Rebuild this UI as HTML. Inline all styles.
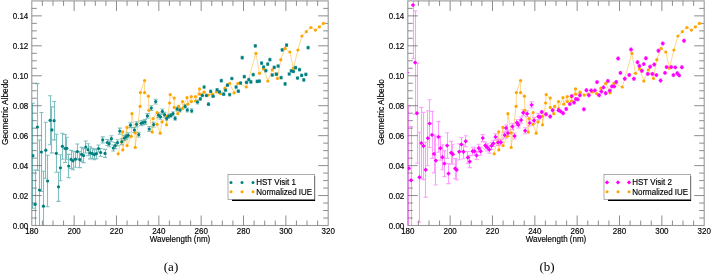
<!DOCTYPE html>
<html><head><meta charset="utf-8"><style>
html,body{margin:0;padding:0;background:#fff;width:711px;height:274px;overflow:hidden}
svg{display:block;will-change:transform}
text{-webkit-font-smoothing:antialiased}
g>text{stroke:#000;stroke-width:0.15px}
</style></head><body>
<svg width="711" height="274" viewBox="0 0 711 274">
<rect x="31.8" y="0.9" width="296.4" height="224.6" fill="none" stroke="#999" stroke-width="1.1"/>
<path d="M42.39 225.50v-5M42.39 0.90v5M52.97 225.50v-5M52.97 0.90v5M63.56 225.50v-5M63.56 0.90v5M74.14 225.50v-10M74.14 0.90v10M84.73 225.50v-5M84.73 0.90v5M95.31 225.50v-5M95.31 0.90v5M105.90 225.50v-5M105.90 0.90v5M116.49 225.50v-10M116.49 0.90v10M127.07 225.50v-5M127.07 0.90v5M137.66 225.50v-5M137.66 0.90v5M148.24 225.50v-5M148.24 0.90v5M158.83 225.50v-10M158.83 0.90v10M169.41 225.50v-5M169.41 0.90v5M180.00 225.50v-5M180.00 0.90v5M190.59 225.50v-5M190.59 0.90v5M201.17 225.50v-10M201.17 0.90v10M211.76 225.50v-5M211.76 0.90v5M222.34 225.50v-5M222.34 0.90v5M232.93 225.50v-5M232.93 0.90v5M243.51 225.50v-10M243.51 0.90v10M254.10 225.50v-5M254.10 0.90v5M264.69 225.50v-5M264.69 0.90v5M275.27 225.50v-5M275.27 0.90v5M285.86 225.50v-10M285.86 0.90v10M296.44 225.50v-5M296.44 0.90v5M307.03 225.50v-5M307.03 0.90v5M317.61 225.50v-5M317.61 0.90v5M31.80 218.01h5M328.20 218.01h-5M31.80 210.53h5M328.20 210.53h-5M31.80 203.04h5M328.20 203.04h-5M31.80 195.55h10M328.20 195.55h-10M31.80 188.07h5M328.20 188.07h-5M31.80 180.58h5M328.20 180.58h-5M31.80 173.09h5M328.20 173.09h-5M31.80 165.61h10M328.20 165.61h-10M31.80 158.12h5M328.20 158.12h-5M31.80 150.63h5M328.20 150.63h-5M31.80 143.15h5M328.20 143.15h-5M31.80 135.66h10M328.20 135.66h-10M31.80 128.17h5M328.20 128.17h-5M31.80 120.69h5M328.20 120.69h-5M31.80 113.20h5M328.20 113.20h-5M31.80 105.71h10M328.20 105.71h-10M31.80 98.23h5M328.20 98.23h-5M31.80 90.74h5M328.20 90.74h-5M31.80 83.25h5M328.20 83.25h-5M31.80 75.77h10M328.20 75.77h-10M31.80 68.28h5M328.20 68.28h-5M31.80 60.79h5M328.20 60.79h-5M31.80 53.31h5M328.20 53.31h-5M31.80 45.82h10M328.20 45.82h-10M31.80 38.33h5M328.20 38.33h-5M31.80 30.85h5M328.20 30.85h-5M31.80 23.36h5M328.20 23.36h-5M31.80 15.87h10M328.20 15.87h-10M31.80 8.39h5M328.20 8.39h-5" stroke="#808080" stroke-width="0.9" fill="none"/>
<g font-family="Liberation Sans, sans-serif" font-size="8" fill="#000"><text transform="translate(31.80,234.20) scale(1,1.06)" text-anchor="middle" font-size="8">180</text><text transform="translate(74.14,234.20) scale(1,1.06)" text-anchor="middle" font-size="8">200</text><text transform="translate(116.49,234.20) scale(1,1.06)" text-anchor="middle" font-size="8">220</text><text transform="translate(158.83,234.20) scale(1,1.06)" text-anchor="middle" font-size="8">240</text><text transform="translate(201.17,234.20) scale(1,1.06)" text-anchor="middle" font-size="8">260</text><text transform="translate(243.51,234.20) scale(1,1.06)" text-anchor="middle" font-size="8">280</text><text transform="translate(285.86,234.20) scale(1,1.06)" text-anchor="middle" font-size="8">300</text><text transform="translate(328.20,234.20) scale(1,1.06)" text-anchor="middle" font-size="8">320</text><text transform="translate(28.30,228.80) scale(1,1.06)" text-anchor="end" font-size="8">0.00</text><text transform="translate(28.30,198.85) scale(1,1.06)" text-anchor="end" font-size="8">0.02</text><text transform="translate(28.30,168.91) scale(1,1.06)" text-anchor="end" font-size="8">0.04</text><text transform="translate(28.30,138.96) scale(1,1.06)" text-anchor="end" font-size="8">0.06</text><text transform="translate(28.30,109.01) scale(1,1.06)" text-anchor="end" font-size="8">0.08</text><text transform="translate(28.30,79.07) scale(1,1.06)" text-anchor="end" font-size="8">0.10</text><text transform="translate(28.30,49.12) scale(1,1.06)" text-anchor="end" font-size="8">0.12</text><text transform="translate(28.30,19.17) scale(1,1.06)" text-anchor="end" font-size="8">0.14</text></g>
<g font-family="Liberation Sans, sans-serif"><text transform="translate(149.70,241.60) scale(1,1.06)" font-size="8">Wavelength (nm)</text></g>
<g font-family="Liberation Sans, sans-serif"><text transform="translate(7.80,112.10) rotate(-90) scale(1,1.06)" text-anchor="middle" font-size="8.3">Geometric Albedo</text></g>
<clipPath id="cp0"><rect x="31.8" y="0.9" width="296.4" height="224.6"/></clipPath>
<g clip-path="url(#cp0)">
<polyline points="118.2,153.8 122.7,131.8 122.8,149.9 127.0,127.4 127.1,145.6 131.3,136.3 131.9,113.7 135.1,132.8 135.2,147.4 140.1,106.3 140.4,92.6 144.6,80.5 144.6,92.6 148.4,96.2 148.9,110.3 152.2,132.1 153.1,118.5 157.1,112.5 157.1,124.3 160.2,133.2 162.0,121.9 166.4,116.2 166.5,124.8 169.6,103.0 170.2,94.6 174.2,98.1 174.2,107.4 177.8,113.7 178.6,106.4 182.5,101.6 182.5,108.6 187.0,97.6 187.8,104.2 191.3,96.6 191.3,101.6 195.4,96.6 195.4,101.0 199.6,88.9 199.6,94.2 204.1,92.2 208.2,95.1 212.2,94.2 216.4,91.9 220.7,93.7 224.9,88.2 229.7,83.4 234.1,92.8 237.8,83.4 246.3,87.0 255.9,53.4 259.5,73.3 263.6,68.9 267.8,81.1 272.3,69.8 277.5,78.5 280.8,59.7 285.1,48.4 289.8,52.0 293.4,68.2 297.9,50.0 301.9,36.0 306.3,31.7 310.9,27.5 315.4,30.1 319.4,26.8 323.4,23.4" fill="none" stroke="#ffa500" stroke-width="0.45"/>
<path d="M32.5 103.2V208.2M30.9 103.2h4M30.9 208.2h4M35.5 170.0V238.8M33.1 170.0h4M33.1 238.8h4M37.5 83.6V170.4M35.4 83.6h4M35.4 170.4h4M39.5 140.0V240.0M37.5 140.0h4M37.5 240.0h4M41.5 112.5V191.5M39.4 112.5h4M39.4 191.5h4M43.5 171.2V241.2M41.4 171.2h4M41.4 241.2h4M45.5 122.2V178.2M43.8 122.2h4M43.8 178.2h4M47.5 155.3V206.7M45.6 155.3h4M45.6 206.7h4M50.5 95.8V144.8M48.1 95.8h4M48.1 144.8h4M51.5 106.9V152.9M49.9 106.9h4M49.9 152.9h4M54.5 101.5V139.9M52.1 101.5h4M52.1 139.9h4M56.5 134.3V172.3M54.3 134.3h4M54.3 172.3h4M58.5 172.2V201.4M56.5 172.2h4M56.5 201.4h4M60.5 154.8V180.8M58.4 154.8h4M58.4 180.8h4M62.5 133.3V159.3M60.4 133.3h4M60.4 159.3h4M65.5 134.5V162.5M63.0 134.5h4M63.0 162.5h4M66.5 137.3V159.3M64.8 137.3h4M64.8 159.3h4M68.5 154.4V177.6M66.7 154.4h4M66.7 177.6h4M71.5 150.4V168.4M69.1 150.4h4M69.1 168.4h4M73.5 151.8V169.8M71.0 151.8h4M71.0 169.8h4M75.5 151.2V167.2M73.5 151.2h4M73.5 167.2h4M77.5 144.0V159.2M75.3 144.0h4M75.3 159.2h4M79.5 151.6V167.6M77.8 151.6h4M77.8 167.6h4M81.5 147.4V161.4M79.6 147.4h4M79.6 161.4h4M83.5 148.6V162.6M81.6 148.6h4M81.6 162.6h4M85.5 141.0V153.0M83.8 141.0h4M83.8 153.0h4M88.5 143.7V155.7M86.0 143.7h4M86.0 155.7h4M90.5 146.9V158.9M88.0 146.9h4M88.0 158.9h4M92.5 148.4V158.4M90.2 148.4h4M90.2 158.4h4M94.5 149.6V159.6M92.4 149.6h4M92.4 159.6h4M96.5 148.7V158.7M94.4 148.7h4M94.4 158.7h4M98.5 145.0V152.0M96.5 145.0h4M96.5 152.0h4M100.5 148.5V156.5M98.7 148.5h4M98.7 156.5h4M102.5 136.9V142.9M100.7 136.9h4M100.7 142.9h4M105.5 149.4V157.4M103.0 149.4h4M103.0 157.4h4M107.5 139.5V145.5M105.3 139.5h4M105.3 145.5h4M109.5 140.7V146.7M107.2 140.7h4M107.2 146.7h4M111.5 135.7V141.7M109.4 135.7h4M109.4 141.7h4M113.5 145.0V151.0M111.3 145.0h4M111.3 151.0h4M115.5 142.6V148.6M113.3 142.6h4M113.3 148.6h4M117.5 139.7V145.7M115.5 139.7h4M115.5 145.7h4M119.5 128.1V134.1M117.8 128.1h4M117.8 134.1h4M121.5 138.8V144.8M119.8 138.8h4M119.8 144.8h4M124.5 135.6V140.6M122.4 135.6h4M122.4 140.6h4M126.5 134.2V139.2M124.3 134.2h4M124.3 139.2h4M128.5 132.8V137.8M126.2 132.8h4M126.2 137.8h4M130.5 122.8V127.6M128.4 122.8h4M128.4 127.6h4M134.5 127.6V132.4M132.4 127.6h4M132.4 132.4h4M136.5 121.9V126.7M134.5 121.9h4M134.5 126.7h4M138.5 132.2V137.0M136.8 132.2h4M136.8 137.0h4M141.5 120.9V125.7M139.1 120.9h4M139.1 125.7h4M143.5 120.2V125.0M141.0 120.2h4M141.0 125.0h4M145.5 119.6V124.4M143.1 119.6h4M143.1 124.4h4M147.5 113.5V118.3M145.4 113.5h4M145.4 118.3h4M149.5 126.6V131.4M147.2 126.6h4M147.2 131.4h4M151.5 105.7V110.5M149.3 105.7h4M149.3 110.5h4M153.5 122.2V127.0M151.7 122.2h4M151.7 127.0h4M155.5 99.2V104.0M153.7 99.2h4M153.7 104.0h4M158.5 112.8V117.6M156.5 112.8h4M156.5 117.6h4M160.5 114.4V119.2M158.5 114.4h4M158.5 119.2h4M162.5 109.0V113.8M160.3 109.0h4M160.3 113.8h4M164.5 112.3V117.1M162.5 112.3h4M162.5 117.1h4M166.5 116.5V120.3M165.1 116.5h3.2M165.1 120.3h3.2M168.5 114.3V118.1M167.2 114.3h3.2M167.2 118.1h3.2M171.5 113.5V117.3M169.4 113.5h3.2M169.4 117.3h3.2M173.5 111.7V115.5M171.4 111.7h3.2M171.4 115.5h3.2M175.5 116.5V120.3M173.5 116.5h3.2M173.5 120.3h3.2M177.5 107.0V110.8M175.5 107.0h3.2M175.5 110.8h3.2M180.5 108.1V111.9M178.4 108.1h3.2M178.4 111.9h3.2M185.5 104.5V108.3M183.5 104.5h3.2M183.5 108.3h3.2M187.5 108.1V111.9M185.7 108.1h3.2M185.7 111.9h3.2M191.5 108.9V112.7M190.1 108.9h3.2M190.1 112.7h3.2M197.5 100.1V103.9M195.9 100.1h3.2M195.9 103.9h3.2M200.5 97.6V100.2M198.7 97.6h3.2M198.7 100.2h3.2M202.5 94.0V96.6M200.7 94.0h3.2M200.7 96.6h3.2M204.5 85.7V88.3M202.5 85.7h3.2M202.5 88.3h3.2M206.5 94.2V96.8M204.8 94.2h3.2M204.8 96.8h3.2M208.5 102.9V105.5M206.9 102.9h3.2M206.9 105.5h3.2M210.5 90.1V92.7M209.1 90.1h3.2M209.1 92.7h3.2M213.5 94.9V97.5M211.5 94.9h3.2M211.5 97.5h3.2M217.5 88.5V91.1M215.5 88.5h3.2M215.5 91.1h3.2M219.5 90.6V93.2M217.9 90.6h3.2M217.9 93.2h3.2M221.5 79.4V82.0M219.7 79.4h3.2M219.7 82.0h3.2M223.5 92.9V95.5M222.1 92.9h3.2M222.1 95.5h3.2M225.5 88.8V91.4M224.0 88.8h3.2M224.0 91.4h3.2M227.5 83.9V86.5M225.8 83.9h3.2M225.8 86.5h3.2M229.5 93.3V95.9M228.1 93.3h3.2M228.1 95.9h3.2M231.5 77.2V79.8M230.3 77.2h3.2M230.3 79.8h3.2M236.5 85.7V88.3M234.5 85.7h3.2M234.5 88.3h3.2M238.5 89.9V92.5M236.7 89.9h3.2M236.7 92.5h3.2M240.5 81.7V84.3M239.0 81.7h3.2M239.0 84.3h3.2M242.5 56.4V59.0M240.6 56.4h3.2M240.6 59.0h3.2M244.5 75.4V78.0M242.7 75.4h3.2M242.7 78.0h3.2M246.5 81.0V83.6M244.9 81.0h3.2M244.9 83.6h3.2M248.5 78.3V80.9M247.2 78.3h3.2M247.2 80.9h3.2M250.5 80.6V83.2M249.3 80.6h3.2M249.3 83.2h3.2M253.5 73.3V75.9M251.6 73.3h3.2M251.6 75.9h3.2M255.5 44.5V47.1M253.7 44.5h3.2M253.7 47.1h3.2M257.5 80.1V82.7M255.6 80.1h3.2M255.6 82.7h3.2M259.5 79.8V82.4M257.8 79.8h3.2M257.8 82.4h3.2M261.5 61.8V64.4M260.0 61.8h3.2M260.0 64.4h3.2M263.5 65.7V68.3M262.0 65.7h3.2M262.0 68.3h3.2M265.5 69.3V71.9M264.3 69.3h3.2M264.3 71.9h3.2M267.5 62.8V65.4M266.1 62.8h3.2M266.1 65.4h3.2M269.5 58.4V61.0M268.3 58.4h3.2M268.3 61.0h3.2M272.5 73.7V76.3M270.7 73.7h3.2M270.7 76.3h3.2M274.5 66.1V68.7M272.6 66.1h3.2M272.6 68.7h3.2M276.5 72.9V75.5M274.8 72.9h3.2M274.8 75.5h3.2M278.5 64.7V67.3M276.5 64.7h3.2M276.5 67.3h3.2M281.5 76.3V78.9M279.5 76.3h3.2M279.5 78.9h3.2M282.5 48.5V51.1M280.6 48.5h3.2M280.6 51.1h3.2M285.5 82.6V85.2M283.5 82.6h3.2M283.5 85.2h3.2M286.5 43.8V46.4M285.0 43.8h3.2M285.0 46.4h3.2M289.5 72.7V75.3M287.6 72.7h3.2M287.6 75.3h3.2M291.5 69.5V72.1M289.7 69.5h3.2M289.7 72.1h3.2M293.5 70.1V72.7M291.8 70.1h3.2M291.8 72.7h3.2M295.5 66.4V69.0M294.0 66.4h3.2M294.0 69.0h3.2M297.5 76.7V79.3M295.9 76.7h3.2M295.9 79.3h3.2M299.5 68.4V71.0M297.9 68.4h3.2M297.9 71.0h3.2M301.5 74.1V76.7M300.1 74.1h3.2M300.1 76.7h3.2M303.5 78.6V81.2M302.2 78.6h3.2M302.2 81.2h3.2M305.5 73.1V75.7M304.3 73.1h3.2M304.3 75.7h3.2M308.5 46.3V48.9M306.5 46.3h3.2M306.5 48.9h3.2" stroke="#008080" stroke-width="1.1" fill="none" opacity="0.5"/>
<circle cx="118.2" cy="153.8" r="1.6" fill="#ffa500"/>
<circle cx="122.7" cy="131.8" r="1.6" fill="#ffa500"/>
<circle cx="122.8" cy="149.9" r="1.6" fill="#ffa500"/>
<circle cx="127.0" cy="127.4" r="1.6" fill="#ffa500"/>
<circle cx="127.1" cy="145.6" r="1.6" fill="#ffa500"/>
<circle cx="131.3" cy="136.3" r="1.6" fill="#ffa500"/>
<circle cx="131.9" cy="113.7" r="1.6" fill="#ffa500"/>
<circle cx="135.1" cy="132.8" r="1.6" fill="#ffa500"/>
<circle cx="135.2" cy="147.4" r="1.6" fill="#ffa500"/>
<circle cx="140.1" cy="106.3" r="1.6" fill="#ffa500"/>
<circle cx="140.4" cy="92.6" r="1.6" fill="#ffa500"/>
<circle cx="144.6" cy="80.5" r="1.6" fill="#ffa500"/>
<circle cx="144.6" cy="92.6" r="1.6" fill="#ffa500"/>
<circle cx="148.4" cy="96.2" r="1.6" fill="#ffa500"/>
<circle cx="148.9" cy="110.3" r="1.6" fill="#ffa500"/>
<circle cx="152.2" cy="132.1" r="1.6" fill="#ffa500"/>
<circle cx="153.1" cy="118.5" r="1.6" fill="#ffa500"/>
<circle cx="157.1" cy="112.5" r="1.6" fill="#ffa500"/>
<circle cx="157.1" cy="124.3" r="1.6" fill="#ffa500"/>
<circle cx="160.2" cy="133.2" r="1.6" fill="#ffa500"/>
<circle cx="162.0" cy="121.9" r="1.6" fill="#ffa500"/>
<circle cx="166.4" cy="116.2" r="1.6" fill="#ffa500"/>
<circle cx="166.5" cy="124.8" r="1.6" fill="#ffa500"/>
<circle cx="169.6" cy="103.0" r="1.6" fill="#ffa500"/>
<circle cx="170.2" cy="94.6" r="1.6" fill="#ffa500"/>
<circle cx="174.2" cy="98.1" r="1.6" fill="#ffa500"/>
<circle cx="174.2" cy="107.4" r="1.6" fill="#ffa500"/>
<circle cx="177.8" cy="113.7" r="1.6" fill="#ffa500"/>
<circle cx="178.6" cy="106.4" r="1.6" fill="#ffa500"/>
<circle cx="182.5" cy="101.6" r="1.6" fill="#ffa500"/>
<circle cx="182.5" cy="108.6" r="1.6" fill="#ffa500"/>
<circle cx="187.0" cy="97.6" r="1.6" fill="#ffa500"/>
<circle cx="187.8" cy="104.2" r="1.6" fill="#ffa500"/>
<circle cx="191.3" cy="96.6" r="1.6" fill="#ffa500"/>
<circle cx="191.3" cy="101.6" r="1.6" fill="#ffa500"/>
<circle cx="195.4" cy="96.6" r="1.6" fill="#ffa500"/>
<circle cx="195.4" cy="101.0" r="1.6" fill="#ffa500"/>
<circle cx="199.6" cy="88.9" r="1.6" fill="#ffa500"/>
<circle cx="199.6" cy="94.2" r="1.6" fill="#ffa500"/>
<circle cx="204.1" cy="92.2" r="1.6" fill="#ffa500"/>
<circle cx="208.2" cy="95.1" r="1.6" fill="#ffa500"/>
<circle cx="212.2" cy="94.2" r="1.6" fill="#ffa500"/>
<circle cx="216.4" cy="91.9" r="1.6" fill="#ffa500"/>
<circle cx="220.7" cy="93.7" r="1.6" fill="#ffa500"/>
<circle cx="224.9" cy="88.2" r="1.6" fill="#ffa500"/>
<circle cx="229.7" cy="83.4" r="1.6" fill="#ffa500"/>
<circle cx="234.1" cy="92.8" r="1.6" fill="#ffa500"/>
<circle cx="237.8" cy="83.4" r="1.6" fill="#ffa500"/>
<circle cx="246.3" cy="87.0" r="1.6" fill="#ffa500"/>
<circle cx="255.9" cy="53.4" r="1.6" fill="#ffa500"/>
<circle cx="259.5" cy="73.3" r="1.6" fill="#ffa500"/>
<circle cx="263.6" cy="68.9" r="1.6" fill="#ffa500"/>
<circle cx="267.8" cy="81.1" r="1.6" fill="#ffa500"/>
<circle cx="272.3" cy="69.8" r="1.6" fill="#ffa500"/>
<circle cx="277.5" cy="78.5" r="1.6" fill="#ffa500"/>
<circle cx="280.8" cy="59.7" r="1.6" fill="#ffa500"/>
<circle cx="285.1" cy="48.4" r="1.6" fill="#ffa500"/>
<circle cx="289.8" cy="52.0" r="1.6" fill="#ffa500"/>
<circle cx="293.4" cy="68.2" r="1.6" fill="#ffa500"/>
<circle cx="297.9" cy="50.0" r="1.6" fill="#ffa500"/>
<circle cx="301.9" cy="36.0" r="1.6" fill="#ffa500"/>
<circle cx="306.3" cy="31.7" r="1.6" fill="#ffa500"/>
<circle cx="310.9" cy="27.5" r="1.6" fill="#ffa500"/>
<circle cx="315.4" cy="30.1" r="1.6" fill="#ffa500"/>
<circle cx="319.4" cy="26.8" r="1.6" fill="#ffa500"/>
<circle cx="323.4" cy="23.4" r="1.6" fill="#ffa500"/>
<circle cx="32.9" cy="155.7" r="1.6" fill="#008080"/>
<circle cx="35.1" cy="204.4" r="1.6" fill="#008080"/>
<circle cx="37.4" cy="127.0" r="1.6" fill="#008080"/>
<circle cx="39.5" cy="190.0" r="1.6" fill="#008080"/>
<circle cx="41.4" cy="152.0" r="1.6" fill="#008080"/>
<circle cx="43.4" cy="206.2" r="1.6" fill="#008080"/>
<circle cx="45.8" cy="150.2" r="1.6" fill="#008080"/>
<circle cx="47.6" cy="181.0" r="1.6" fill="#008080"/>
<circle cx="50.1" cy="120.3" r="1.6" fill="#008080"/>
<circle cx="51.9" cy="129.9" r="1.6" fill="#008080"/>
<circle cx="54.1" cy="120.7" r="1.6" fill="#008080"/>
<circle cx="56.3" cy="153.3" r="1.6" fill="#008080"/>
<circle cx="58.5" cy="186.8" r="1.6" fill="#008080"/>
<circle cx="60.4" cy="167.8" r="1.6" fill="#008080"/>
<circle cx="62.4" cy="146.3" r="1.6" fill="#008080"/>
<circle cx="65.0" cy="148.5" r="1.6" fill="#008080"/>
<circle cx="66.8" cy="148.3" r="1.6" fill="#008080"/>
<circle cx="68.7" cy="166.0" r="1.6" fill="#008080"/>
<circle cx="71.1" cy="159.4" r="1.6" fill="#008080"/>
<circle cx="73.0" cy="160.8" r="1.6" fill="#008080"/>
<circle cx="75.5" cy="159.2" r="1.6" fill="#008080"/>
<circle cx="77.3" cy="151.6" r="1.6" fill="#008080"/>
<circle cx="79.8" cy="159.6" r="1.6" fill="#008080"/>
<circle cx="81.6" cy="154.4" r="1.6" fill="#008080"/>
<circle cx="83.6" cy="155.6" r="1.6" fill="#008080"/>
<circle cx="85.8" cy="147.0" r="1.6" fill="#008080"/>
<circle cx="88.0" cy="149.7" r="1.6" fill="#008080"/>
<circle cx="90.0" cy="152.9" r="1.6" fill="#008080"/>
<circle cx="92.2" cy="153.4" r="1.6" fill="#008080"/>
<circle cx="94.4" cy="154.6" r="1.6" fill="#008080"/>
<circle cx="96.4" cy="153.7" r="1.6" fill="#008080"/>
<circle cx="98.5" cy="148.5" r="1.6" fill="#008080"/>
<circle cx="100.7" cy="152.5" r="1.6" fill="#008080"/>
<circle cx="102.7" cy="139.9" r="1.6" fill="#008080"/>
<circle cx="105.0" cy="153.4" r="1.6" fill="#008080"/>
<circle cx="107.3" cy="142.5" r="1.6" fill="#008080"/>
<circle cx="109.2" cy="143.7" r="1.6" fill="#008080"/>
<circle cx="111.4" cy="138.7" r="1.6" fill="#008080"/>
<circle cx="113.3" cy="148.0" r="1.6" fill="#008080"/>
<circle cx="115.3" cy="145.6" r="1.6" fill="#008080"/>
<circle cx="117.5" cy="142.7" r="1.6" fill="#008080"/>
<circle cx="119.8" cy="131.1" r="1.6" fill="#008080"/>
<circle cx="121.8" cy="141.8" r="1.6" fill="#008080"/>
<circle cx="124.4" cy="138.1" r="1.6" fill="#008080"/>
<circle cx="126.3" cy="136.7" r="1.6" fill="#008080"/>
<circle cx="128.2" cy="135.3" r="1.6" fill="#008080"/>
<circle cx="130.4" cy="125.2" r="1.6" fill="#008080"/>
<circle cx="134.4" cy="130.0" r="1.6" fill="#008080"/>
<circle cx="136.5" cy="124.3" r="1.6" fill="#008080"/>
<circle cx="138.8" cy="134.6" r="1.6" fill="#008080"/>
<circle cx="141.1" cy="123.3" r="1.6" fill="#008080"/>
<circle cx="143.0" cy="122.6" r="1.6" fill="#008080"/>
<circle cx="145.1" cy="122.0" r="1.6" fill="#008080"/>
<circle cx="147.4" cy="115.9" r="1.6" fill="#008080"/>
<circle cx="149.2" cy="129.0" r="1.6" fill="#008080"/>
<circle cx="151.3" cy="108.1" r="1.6" fill="#008080"/>
<circle cx="153.7" cy="124.6" r="1.6" fill="#008080"/>
<circle cx="155.7" cy="101.6" r="1.6" fill="#008080"/>
<circle cx="158.5" cy="115.2" r="1.6" fill="#008080"/>
<circle cx="160.5" cy="116.8" r="1.6" fill="#008080"/>
<circle cx="162.3" cy="111.4" r="1.6" fill="#008080"/>
<circle cx="164.5" cy="114.7" r="1.6" fill="#008080"/>
<circle cx="166.7" cy="118.4" r="1.6" fill="#008080"/>
<circle cx="168.8" cy="116.2" r="1.6" fill="#008080"/>
<circle cx="171.0" cy="115.4" r="1.6" fill="#008080"/>
<circle cx="173.0" cy="113.6" r="1.6" fill="#008080"/>
<circle cx="175.1" cy="118.4" r="1.6" fill="#008080"/>
<circle cx="177.1" cy="108.9" r="1.6" fill="#008080"/>
<circle cx="180.0" cy="110.0" r="1.6" fill="#008080"/>
<circle cx="185.1" cy="106.4" r="1.6" fill="#008080"/>
<circle cx="187.3" cy="110.0" r="1.6" fill="#008080"/>
<circle cx="191.7" cy="110.8" r="1.6" fill="#008080"/>
<circle cx="197.5" cy="102.0" r="1.6" fill="#008080"/>
<circle cx="200.3" cy="98.9" r="1.6" fill="#008080"/>
<circle cx="202.3" cy="95.3" r="1.6" fill="#008080"/>
<circle cx="204.1" cy="87.0" r="1.6" fill="#008080"/>
<circle cx="206.4" cy="95.5" r="1.6" fill="#008080"/>
<circle cx="208.5" cy="104.2" r="1.6" fill="#008080"/>
<circle cx="210.7" cy="91.4" r="1.6" fill="#008080"/>
<circle cx="213.1" cy="96.2" r="1.6" fill="#008080"/>
<circle cx="217.1" cy="89.8" r="1.6" fill="#008080"/>
<circle cx="219.5" cy="91.9" r="1.6" fill="#008080"/>
<circle cx="221.3" cy="80.7" r="1.6" fill="#008080"/>
<circle cx="223.7" cy="94.2" r="1.6" fill="#008080"/>
<circle cx="225.6" cy="90.1" r="1.6" fill="#008080"/>
<circle cx="227.4" cy="85.2" r="1.6" fill="#008080"/>
<circle cx="229.7" cy="94.6" r="1.6" fill="#008080"/>
<circle cx="231.9" cy="78.5" r="1.6" fill="#008080"/>
<circle cx="236.1" cy="87.0" r="1.6" fill="#008080"/>
<circle cx="238.3" cy="91.2" r="1.6" fill="#008080"/>
<circle cx="240.6" cy="83.0" r="1.6" fill="#008080"/>
<circle cx="242.2" cy="57.7" r="1.6" fill="#008080"/>
<circle cx="244.3" cy="76.7" r="1.6" fill="#008080"/>
<circle cx="246.5" cy="82.3" r="1.6" fill="#008080"/>
<circle cx="248.8" cy="79.6" r="1.6" fill="#008080"/>
<circle cx="250.9" cy="81.9" r="1.6" fill="#008080"/>
<circle cx="253.2" cy="74.6" r="1.6" fill="#008080"/>
<circle cx="255.3" cy="45.8" r="1.6" fill="#008080"/>
<circle cx="257.2" cy="81.4" r="1.6" fill="#008080"/>
<circle cx="259.4" cy="81.1" r="1.6" fill="#008080"/>
<circle cx="261.6" cy="63.1" r="1.6" fill="#008080"/>
<circle cx="263.6" cy="67.0" r="1.6" fill="#008080"/>
<circle cx="265.9" cy="70.6" r="1.6" fill="#008080"/>
<circle cx="267.7" cy="64.1" r="1.6" fill="#008080"/>
<circle cx="269.9" cy="59.7" r="1.6" fill="#008080"/>
<circle cx="272.3" cy="75.0" r="1.6" fill="#008080"/>
<circle cx="274.2" cy="67.4" r="1.6" fill="#008080"/>
<circle cx="276.4" cy="74.2" r="1.6" fill="#008080"/>
<circle cx="278.1" cy="66.0" r="1.6" fill="#008080"/>
<circle cx="281.1" cy="77.6" r="1.6" fill="#008080"/>
<circle cx="282.2" cy="49.8" r="1.6" fill="#008080"/>
<circle cx="285.1" cy="83.9" r="1.6" fill="#008080"/>
<circle cx="286.6" cy="45.1" r="1.6" fill="#008080"/>
<circle cx="289.2" cy="74.0" r="1.6" fill="#008080"/>
<circle cx="291.3" cy="70.8" r="1.6" fill="#008080"/>
<circle cx="293.4" cy="71.4" r="1.6" fill="#008080"/>
<circle cx="295.6" cy="67.7" r="1.6" fill="#008080"/>
<circle cx="297.5" cy="78.0" r="1.6" fill="#008080"/>
<circle cx="299.5" cy="69.7" r="1.6" fill="#008080"/>
<circle cx="301.7" cy="75.4" r="1.6" fill="#008080"/>
<circle cx="303.8" cy="79.9" r="1.6" fill="#008080"/>
<circle cx="305.9" cy="74.4" r="1.6" fill="#008080"/>
<circle cx="308.1" cy="47.6" r="1.6" fill="#008080"/>
</g>
<rect x="232" y="176.0" width="83.1" height="25.0" fill="#000"/>
<rect x="228" y="174.5" width="86.5" height="25.0" fill="#fff" stroke="#777" stroke-width="0.6"/>
<circle cx="231" cy="182.4" r="1.5" fill="#008080"/>
<circle cx="231" cy="191.7" r="1.5" fill="#ffa500"/>
<circle cx="242" cy="182.4" r="1.5" fill="#008080"/>
<circle cx="242" cy="191.7" r="1.5" fill="#ffa500"/>
<circle cx="253" cy="182.4" r="1.5" fill="#008080"/>
<circle cx="253" cy="191.7" r="1.5" fill="#ffa500"/>
<g font-family="Liberation Sans, sans-serif"><text transform="translate(256.20,185.30) scale(1,1.06)" font-size="8">HST Visit 1</text></g>
<g font-family="Liberation Sans, sans-serif"><text transform="translate(256.20,194.60) scale(1,1.06)" font-size="8">Normalized IUE</text></g>
<rect x="407.8" y="0.9" width="296.40000000000003" height="224.6" fill="none" stroke="#999" stroke-width="1.1"/>
<path d="M418.39 225.50v-5M418.39 0.90v5M428.97 225.50v-5M428.97 0.90v5M439.56 225.50v-5M439.56 0.90v5M450.14 225.50v-10M450.14 0.90v10M460.73 225.50v-5M460.73 0.90v5M471.31 225.50v-5M471.31 0.90v5M481.90 225.50v-5M481.90 0.90v5M492.49 225.50v-10M492.49 0.90v10M503.07 225.50v-5M503.07 0.90v5M513.66 225.50v-5M513.66 0.90v5M524.24 225.50v-5M524.24 0.90v5M534.83 225.50v-10M534.83 0.90v10M545.41 225.50v-5M545.41 0.90v5M556.00 225.50v-5M556.00 0.90v5M566.59 225.50v-5M566.59 0.90v5M577.17 225.50v-10M577.17 0.90v10M587.76 225.50v-5M587.76 0.90v5M598.34 225.50v-5M598.34 0.90v5M608.93 225.50v-5M608.93 0.90v5M619.51 225.50v-10M619.51 0.90v10M630.10 225.50v-5M630.10 0.90v5M640.69 225.50v-5M640.69 0.90v5M651.27 225.50v-5M651.27 0.90v5M661.86 225.50v-10M661.86 0.90v10M672.44 225.50v-5M672.44 0.90v5M683.03 225.50v-5M683.03 0.90v5M693.61 225.50v-5M693.61 0.90v5M407.80 218.01h5M704.20 218.01h-5M407.80 210.53h5M704.20 210.53h-5M407.80 203.04h5M704.20 203.04h-5M407.80 195.55h10M704.20 195.55h-10M407.80 188.07h5M704.20 188.07h-5M407.80 180.58h5M704.20 180.58h-5M407.80 173.09h5M704.20 173.09h-5M407.80 165.61h10M704.20 165.61h-10M407.80 158.12h5M704.20 158.12h-5M407.80 150.63h5M704.20 150.63h-5M407.80 143.15h5M704.20 143.15h-5M407.80 135.66h10M704.20 135.66h-10M407.80 128.17h5M704.20 128.17h-5M407.80 120.69h5M704.20 120.69h-5M407.80 113.20h5M704.20 113.20h-5M407.80 105.71h10M704.20 105.71h-10M407.80 98.23h5M704.20 98.23h-5M407.80 90.74h5M704.20 90.74h-5M407.80 83.25h5M704.20 83.25h-5M407.80 75.77h10M704.20 75.77h-10M407.80 68.28h5M704.20 68.28h-5M407.80 60.79h5M704.20 60.79h-5M407.80 53.31h5M704.20 53.31h-5M407.80 45.82h10M704.20 45.82h-10M407.80 38.33h5M704.20 38.33h-5M407.80 30.85h5M704.20 30.85h-5M407.80 23.36h5M704.20 23.36h-5M407.80 15.87h10M704.20 15.87h-10M407.80 8.39h5M704.20 8.39h-5" stroke="#808080" stroke-width="0.9" fill="none"/>
<g font-family="Liberation Sans, sans-serif" font-size="8" fill="#000"><text transform="translate(407.80,234.20) scale(1,1.06)" text-anchor="middle" font-size="8">180</text><text transform="translate(450.14,234.20) scale(1,1.06)" text-anchor="middle" font-size="8">200</text><text transform="translate(492.49,234.20) scale(1,1.06)" text-anchor="middle" font-size="8">220</text><text transform="translate(534.83,234.20) scale(1,1.06)" text-anchor="middle" font-size="8">240</text><text transform="translate(577.17,234.20) scale(1,1.06)" text-anchor="middle" font-size="8">260</text><text transform="translate(619.51,234.20) scale(1,1.06)" text-anchor="middle" font-size="8">280</text><text transform="translate(661.86,234.20) scale(1,1.06)" text-anchor="middle" font-size="8">300</text><text transform="translate(704.20,234.20) scale(1,1.06)" text-anchor="middle" font-size="8">320</text><text transform="translate(404.30,228.80) scale(1,1.06)" text-anchor="end" font-size="8">0.00</text><text transform="translate(404.30,198.85) scale(1,1.06)" text-anchor="end" font-size="8">0.02</text><text transform="translate(404.30,168.91) scale(1,1.06)" text-anchor="end" font-size="8">0.04</text><text transform="translate(404.30,138.96) scale(1,1.06)" text-anchor="end" font-size="8">0.06</text><text transform="translate(404.30,109.01) scale(1,1.06)" text-anchor="end" font-size="8">0.08</text><text transform="translate(404.30,79.07) scale(1,1.06)" text-anchor="end" font-size="8">0.10</text><text transform="translate(404.30,49.12) scale(1,1.06)" text-anchor="end" font-size="8">0.12</text><text transform="translate(404.30,19.17) scale(1,1.06)" text-anchor="end" font-size="8">0.14</text></g>
<g font-family="Liberation Sans, sans-serif"><text transform="translate(525.70,241.60) scale(1,1.06)" font-size="8">Wavelength (nm)</text></g>
<g font-family="Liberation Sans, sans-serif"><text transform="translate(383.80,112.10) rotate(-90) scale(1,1.06)" text-anchor="middle" font-size="8.3">Geometric Albedo</text></g>
<clipPath id="cp376"><rect x="407.8" y="0.9" width="296.40000000000003" height="224.6"/></clipPath>
<g clip-path="url(#cp376)">
<polyline points="494.2,153.8 498.7,131.8 498.8,149.9 503.0,127.4 503.1,145.6 507.3,136.3 507.9,113.7 511.1,132.8 511.2,147.4 516.1,106.3 516.4,92.6 520.6,80.5 520.6,92.6 524.4,96.2 524.9,110.3 528.2,132.1 529.1,118.5 533.1,112.5 533.1,124.3 536.2,133.2 538.0,121.9 542.4,116.2 542.5,124.8 545.6,103.0 546.2,94.6 550.2,98.1 550.2,107.4 553.8,113.7 554.6,106.4 558.5,101.6 558.5,108.6 563.0,97.6 563.8,104.2 567.3,96.6 567.3,101.6 571.4,96.6 571.4,101.0 575.6,88.9 575.6,94.2 580.1,92.2 584.2,95.1 588.2,94.2 592.4,91.9 596.7,93.7 600.9,88.2 605.7,83.4 610.1,92.8 613.8,83.4 622.3,87.0 631.9,53.4 635.5,73.3 639.6,68.9 643.8,81.1 648.3,69.8 653.5,78.5 656.8,59.7 661.1,48.4 665.8,52.0 669.4,68.2 673.9,50.0 677.9,36.0 682.3,31.7 686.9,27.5 691.4,30.1 695.4,26.8 699.4,23.4" fill="none" stroke="#ffa500" stroke-width="0.45"/>
<path d="M408.5 106.2V230.2M406.9 106.2h4M406.9 230.2h4M411.5 126.6V233.8M409.1 126.6h4M409.1 233.8h4M413.5 -48.5V58.7M411.0 -48.5h4M411.0 58.7h4M415.5 10.9V114.3M413.1 10.9h4M413.1 114.3h4M417.5 63.3V163.3M415.0 63.3h4M415.0 163.3h4M419.5 132.3V222.3M417.4 132.3h4M417.4 222.3h4M421.5 107.4V178.8M419.3 107.4h4M419.3 178.8h4M423.5 112.4V179.6M421.5 112.4h4M421.5 179.6h4M425.5 142.3V197.1M423.7 142.3h4M423.7 197.1h4M427.5 110.7V165.7M425.9 110.7h4M425.9 165.7h4M429.5 99.7V147.5M427.6 99.7h4M427.6 147.5h4M432.5 111.4V158.4M430.0 111.4h4M430.0 158.4h4M434.5 134.9V172.9M432.0 134.9h4M432.0 172.9h4M435.5 136.2V185.0M433.9 136.2h4M433.9 185.0h4M438.5 121.6V152.2M436.5 121.6h4M436.5 152.2h4M440.5 136.2V160.2M438.4 136.2h4M438.4 160.2h4M442.5 144.7V169.7M440.4 144.7h4M440.4 169.7h4M444.5 150.6V176.6M442.4 150.6h4M442.4 176.6h4M447.5 132.7V158.5M445.1 132.7h4M445.1 158.5h4M448.5 163.6V183.6M446.5 163.6h4M446.5 183.6h4M451.5 141.4V164.2M449.1 141.4h4M449.1 164.2h4M452.5 144.3V164.3M450.9 144.3h4M450.9 164.3h4M455.5 158.5V178.5M453.2 158.5h4M453.2 178.5h4M456.5 159.9V179.9M454.7 159.9h4M454.7 179.9h4M459.5 143.7V159.7M457.2 143.7h4M457.2 159.7h4M461.5 137.5V151.3M459.4 137.5h4M459.4 151.3h4M463.5 144.7V158.7M461.5 144.7h4M461.5 158.7h4M465.5 135.8V146.6M463.7 135.8h4M463.7 146.6h4M467.5 151.5V163.5M465.9 151.5h4M465.9 163.5h4M469.5 155.6V167.6M467.8 155.6h4M467.8 167.6h4M472.5 147.2V155.2M470.6 147.2h4M470.6 155.2h4M474.5 147.3V155.3M472.5 147.3h4M472.5 155.3h4M476.5 151.4V159.4M474.6 151.4h4M474.6 159.4h4M478.5 144.3V152.3M476.8 144.3h4M476.8 152.3h4M480.5 147.2V155.2M478.7 147.2h4M478.7 155.2h4M482.5 134.6V141.6M480.8 134.6h4M480.8 141.6h4M485.5 142.0V149.0M483.3 142.0h4M483.3 149.0h4M487.5 143.9V150.9M485.2 143.9h4M485.2 150.9h4M489.5 146.1V153.1M487.3 146.1h4M487.3 153.1h4M491.5 142.2V149.2M489.6 142.2h4M489.6 149.2h4M493.5 140.5V146.5M491.4 140.5h4M491.4 146.5h4M495.5 133.9V139.9M493.5 133.9h4M493.5 139.9h4M498.5 139.4V145.4M496.0 139.4h4M496.0 145.4h4M500.5 139.2V145.2M498.9 139.2h4M498.9 145.2h4M504.5 132.1V138.1M502.7 132.1h4M502.7 138.1h4M506.5 125.0V131.0M504.1 125.0h4M504.1 131.0h4M508.5 130.1V136.1M506.0 130.1h4M506.0 136.1h4M512.5 123.6V129.6M510.4 123.6h4M510.4 129.6h4M514.5 133.0V139.0M512.6 133.0h4M512.6 139.0h4M516.5 119.7V125.7M514.9 119.7h4M514.9 125.7h4M518.5 121.9V127.9M516.4 121.9h4M516.4 127.9h4M521.5 117.1V123.1M519.1 117.1h4M519.1 123.1h4M523.5 109.8V115.8M521.2 109.8h4M521.2 115.8h4M525.5 127.8V133.8M523.1 127.8h4M523.1 133.8h4M527.5 110.7V116.7M525.1 110.7h4M525.1 116.7h4M529.5 119.9V125.9M527.7 119.9h4M527.7 125.9h4M531.5 101.9V107.9M529.6 101.9h4M529.6 107.9h4M534.5 117.5V123.5M532.0 117.5h4M532.0 123.5h4M538.5 113.6V119.6M536.3 113.6h4M536.3 119.6h4M540.5 115.5V118.3M538.4 115.5h3.2M538.4 118.3h3.2M541.5 110.6V113.4M540.2 110.6h3.2M540.2 113.4h3.2M546.5 112.8V115.6M544.4 112.8h3.2M544.4 115.6h3.2M550.5 115.1V117.9M548.6 115.1h3.2M548.6 117.9h3.2M552.5 108.9V111.7M551.0 108.9h3.2M551.0 111.7h3.2M558.5 108.8V111.6M556.9 108.8h3.2M556.9 111.6h3.2M560.5 110.0V112.8M559.1 110.0h3.2M559.1 112.8h3.2M563.5 111.9V114.7M561.5 111.9h3.2M561.5 114.7h3.2M566.5 107.6V110.4M564.6 107.6h3.2M564.6 110.4h3.2M569.5 102.7V105.5M568.2 102.7h3.2M568.2 105.5h3.2M571.5 94.7V97.5M570.1 94.7h3.2M570.1 97.5h3.2M574.5 101.1V103.9M572.4 101.1h3.2M572.4 103.9h3.2M575.5 97.6V100.4M574.3 97.6h3.2M574.3 100.4h3.2M577.5 98.0V100.8M576.2 98.0h3.2M576.2 100.8h3.2M579.5 93.9V96.7M578.3 93.9h3.2M578.3 96.7h3.2M583.5 107.8V110.6M582.3 107.8h3.2M582.3 110.6h3.2M586.5 88.8V91.6M584.8 88.8h3.2M584.8 91.6h3.2M588.5 93.9V96.7M587.3 93.9h3.2M587.3 96.7h3.2M591.5 89.1V91.9M589.5 89.1h3.2M589.5 91.9h3.2M594.5 89.0V91.8M593.3 89.0h3.2M593.3 91.8h3.2M597.5 80.7V83.5M595.4 80.7h3.2M595.4 83.5h3.2M599.5 93.9V96.7M597.5 93.9h3.2M597.5 96.7h3.2M601.5 90.1V92.9M599.8 90.1h3.2M599.8 92.9h3.2M603.5 86.0V88.8M601.9 86.0h3.2M601.9 88.8h3.2M605.5 91.8V94.6M604.1 91.8h3.2M604.1 94.6h3.2M607.5 79.6V82.4M606.3 79.6h3.2M606.3 82.4h3.2M609.5 89.4V92.2M608.2 89.4h3.2M608.2 92.2h3.2M611.5 85.0V87.8M610.3 85.0h3.2M610.3 87.8h3.2M614.5 85.0V87.8M612.6 85.0h3.2M612.6 87.8h3.2M616.5 80.6V83.4M614.6 80.6h3.2M614.6 83.4h3.2M618.5 57.1V59.9M616.5 57.1h3.2M616.5 59.9h3.2M620.5 71.5V74.3M618.8 71.5h3.2M618.8 74.3h3.2M624.5 77.3V80.1M623.2 77.3h3.2M623.2 80.1h3.2M629.5 73.6V76.4M627.6 73.6h3.2M627.6 76.4h3.2M631.5 48.1V50.9M629.4 48.1h3.2M629.4 50.9h3.2M633.5 77.3V80.1M632.3 77.3h3.2M632.3 80.1h3.2M637.5 60.8V63.6M635.9 60.8h3.2M635.9 63.6h3.2M639.5 64.6V67.4M637.8 64.6h3.2M637.8 67.4h3.2M641.5 69.3V72.1M640.3 69.3h3.2M640.3 72.1h3.2M643.5 62.7V65.5M642.2 62.7h3.2M642.2 65.5h3.2M645.5 56.8V59.6M644.3 56.8h3.2M644.3 59.6h3.2M647.5 72.5V75.3M646.2 72.5h3.2M646.2 75.3h3.2M650.5 65.4V68.2M648.5 65.4h3.2M648.5 68.2h3.2M652.5 72.5V75.3M650.8 72.5h3.2M650.8 75.3h3.2M654.5 63.1V65.9M652.6 63.1h3.2M652.6 65.9h3.2M656.5 73.7V76.5M654.8 73.7h3.2M654.8 76.5h3.2M658.5 49.4V52.2M656.8 49.4h3.2M656.8 52.2h3.2M660.5 79.1V81.9M659.0 79.1h3.2M659.0 81.9h3.2M662.5 42.1V44.9M661.2 42.1h3.2M661.2 44.9h3.2M665.5 71.5V74.3M663.4 71.5h3.2M663.4 74.3h3.2M666.5 65.7V68.5M665.0 65.7h3.2M665.0 68.5h3.2M671.5 65.7V68.5M669.6 65.7h3.2M669.6 68.5h3.2M673.5 73.7V76.5M671.8 73.7h3.2M671.8 76.5h3.2M675.5 66.0V68.8M673.7 66.0h3.2M673.7 68.8h3.2M677.5 71.8V74.6M675.6 71.8h3.2M675.6 74.6h3.2M679.5 74.0V76.8M677.6 74.0h3.2M677.6 76.8h3.2M681.5 65.8V68.6M680.3 65.8h3.2M680.3 68.6h3.2M684.5 39.4V42.2M682.4 39.4h3.2M682.4 42.2h3.2" stroke="#ff00ff" stroke-width="1.1" fill="none" opacity="0.38"/>
<circle cx="494.2" cy="153.8" r="1.6" fill="#ffa500"/>
<circle cx="498.7" cy="131.8" r="1.6" fill="#ffa500"/>
<circle cx="498.8" cy="149.9" r="1.6" fill="#ffa500"/>
<circle cx="503.0" cy="127.4" r="1.6" fill="#ffa500"/>
<circle cx="503.1" cy="145.6" r="1.6" fill="#ffa500"/>
<circle cx="507.3" cy="136.3" r="1.6" fill="#ffa500"/>
<circle cx="507.9" cy="113.7" r="1.6" fill="#ffa500"/>
<circle cx="511.1" cy="132.8" r="1.6" fill="#ffa500"/>
<circle cx="511.2" cy="147.4" r="1.6" fill="#ffa500"/>
<circle cx="516.1" cy="106.3" r="1.6" fill="#ffa500"/>
<circle cx="516.4" cy="92.6" r="1.6" fill="#ffa500"/>
<circle cx="520.6" cy="80.5" r="1.6" fill="#ffa500"/>
<circle cx="520.6" cy="92.6" r="1.6" fill="#ffa500"/>
<circle cx="524.4" cy="96.2" r="1.6" fill="#ffa500"/>
<circle cx="524.9" cy="110.3" r="1.6" fill="#ffa500"/>
<circle cx="528.2" cy="132.1" r="1.6" fill="#ffa500"/>
<circle cx="529.1" cy="118.5" r="1.6" fill="#ffa500"/>
<circle cx="533.1" cy="112.5" r="1.6" fill="#ffa500"/>
<circle cx="533.1" cy="124.3" r="1.6" fill="#ffa500"/>
<circle cx="536.2" cy="133.2" r="1.6" fill="#ffa500"/>
<circle cx="538.0" cy="121.9" r="1.6" fill="#ffa500"/>
<circle cx="542.4" cy="116.2" r="1.6" fill="#ffa500"/>
<circle cx="542.5" cy="124.8" r="1.6" fill="#ffa500"/>
<circle cx="545.6" cy="103.0" r="1.6" fill="#ffa500"/>
<circle cx="546.2" cy="94.6" r="1.6" fill="#ffa500"/>
<circle cx="550.2" cy="98.1" r="1.6" fill="#ffa500"/>
<circle cx="550.2" cy="107.4" r="1.6" fill="#ffa500"/>
<circle cx="553.8" cy="113.7" r="1.6" fill="#ffa500"/>
<circle cx="554.6" cy="106.4" r="1.6" fill="#ffa500"/>
<circle cx="558.5" cy="101.6" r="1.6" fill="#ffa500"/>
<circle cx="558.5" cy="108.6" r="1.6" fill="#ffa500"/>
<circle cx="563.0" cy="97.6" r="1.6" fill="#ffa500"/>
<circle cx="563.8" cy="104.2" r="1.6" fill="#ffa500"/>
<circle cx="567.3" cy="96.6" r="1.6" fill="#ffa500"/>
<circle cx="567.3" cy="101.6" r="1.6" fill="#ffa500"/>
<circle cx="571.4" cy="96.6" r="1.6" fill="#ffa500"/>
<circle cx="571.4" cy="101.0" r="1.6" fill="#ffa500"/>
<circle cx="575.6" cy="88.9" r="1.6" fill="#ffa500"/>
<circle cx="575.6" cy="94.2" r="1.6" fill="#ffa500"/>
<circle cx="580.1" cy="92.2" r="1.6" fill="#ffa500"/>
<circle cx="584.2" cy="95.1" r="1.6" fill="#ffa500"/>
<circle cx="588.2" cy="94.2" r="1.6" fill="#ffa500"/>
<circle cx="592.4" cy="91.9" r="1.6" fill="#ffa500"/>
<circle cx="596.7" cy="93.7" r="1.6" fill="#ffa500"/>
<circle cx="600.9" cy="88.2" r="1.6" fill="#ffa500"/>
<circle cx="605.7" cy="83.4" r="1.6" fill="#ffa500"/>
<circle cx="610.1" cy="92.8" r="1.6" fill="#ffa500"/>
<circle cx="613.8" cy="83.4" r="1.6" fill="#ffa500"/>
<circle cx="622.3" cy="87.0" r="1.6" fill="#ffa500"/>
<circle cx="631.9" cy="53.4" r="1.6" fill="#ffa500"/>
<circle cx="635.5" cy="73.3" r="1.6" fill="#ffa500"/>
<circle cx="639.6" cy="68.9" r="1.6" fill="#ffa500"/>
<circle cx="643.8" cy="81.1" r="1.6" fill="#ffa500"/>
<circle cx="648.3" cy="69.8" r="1.6" fill="#ffa500"/>
<circle cx="653.5" cy="78.5" r="1.6" fill="#ffa500"/>
<circle cx="656.8" cy="59.7" r="1.6" fill="#ffa500"/>
<circle cx="661.1" cy="48.4" r="1.6" fill="#ffa500"/>
<circle cx="665.8" cy="52.0" r="1.6" fill="#ffa500"/>
<circle cx="669.4" cy="68.2" r="1.6" fill="#ffa500"/>
<circle cx="673.9" cy="50.0" r="1.6" fill="#ffa500"/>
<circle cx="677.9" cy="36.0" r="1.6" fill="#ffa500"/>
<circle cx="682.3" cy="31.7" r="1.6" fill="#ffa500"/>
<circle cx="686.9" cy="27.5" r="1.6" fill="#ffa500"/>
<circle cx="691.4" cy="30.1" r="1.6" fill="#ffa500"/>
<circle cx="695.4" cy="26.8" r="1.6" fill="#ffa500"/>
<circle cx="699.4" cy="23.4" r="1.6" fill="#ffa500"/>
<path d="M408.9 166.0l2.2 2.2l-2.2 2.2l-2.2 -2.2z" fill="#ff00ff"/>
<path d="M411.1 178.0l2.2 2.2l-2.2 2.2l-2.2 -2.2z" fill="#ff00ff"/>
<path d="M413.0 2.9l2.2 2.2l-2.2 2.2l-2.2 -2.2z" fill="#ff00ff"/>
<path d="M415.1 60.4l2.2 2.2l-2.2 2.2l-2.2 -2.2z" fill="#ff00ff"/>
<path d="M417.0 111.1l2.2 2.2l-2.2 2.2l-2.2 -2.2z" fill="#ff00ff"/>
<path d="M419.4 175.1l2.2 2.2l-2.2 2.2l-2.2 -2.2z" fill="#ff00ff"/>
<path d="M421.3 140.9l2.2 2.2l-2.2 2.2l-2.2 -2.2z" fill="#ff00ff"/>
<path d="M423.5 143.8l2.2 2.2l-2.2 2.2l-2.2 -2.2z" fill="#ff00ff"/>
<path d="M425.7 167.5l2.2 2.2l-2.2 2.2l-2.2 -2.2z" fill="#ff00ff"/>
<path d="M427.9 136.0l2.2 2.2l-2.2 2.2l-2.2 -2.2z" fill="#ff00ff"/>
<path d="M429.6 121.4l2.2 2.2l-2.2 2.2l-2.2 -2.2z" fill="#ff00ff"/>
<path d="M432.0 132.7l2.2 2.2l-2.2 2.2l-2.2 -2.2z" fill="#ff00ff"/>
<path d="M434.0 151.7l2.2 2.2l-2.2 2.2l-2.2 -2.2z" fill="#ff00ff"/>
<path d="M435.9 158.4l2.2 2.2l-2.2 2.2l-2.2 -2.2z" fill="#ff00ff"/>
<path d="M438.5 134.7l2.2 2.2l-2.2 2.2l-2.2 -2.2z" fill="#ff00ff"/>
<path d="M440.4 146.0l2.2 2.2l-2.2 2.2l-2.2 -2.2z" fill="#ff00ff"/>
<path d="M442.4 155.0l2.2 2.2l-2.2 2.2l-2.2 -2.2z" fill="#ff00ff"/>
<path d="M444.4 161.4l2.2 2.2l-2.2 2.2l-2.2 -2.2z" fill="#ff00ff"/>
<path d="M447.1 143.4l2.2 2.2l-2.2 2.2l-2.2 -2.2z" fill="#ff00ff"/>
<path d="M448.5 171.4l2.2 2.2l-2.2 2.2l-2.2 -2.2z" fill="#ff00ff"/>
<path d="M451.1 150.6l2.2 2.2l-2.2 2.2l-2.2 -2.2z" fill="#ff00ff"/>
<path d="M452.9 152.1l2.2 2.2l-2.2 2.2l-2.2 -2.2z" fill="#ff00ff"/>
<path d="M455.2 166.3l2.2 2.2l-2.2 2.2l-2.2 -2.2z" fill="#ff00ff"/>
<path d="M456.7 167.7l2.2 2.2l-2.2 2.2l-2.2 -2.2z" fill="#ff00ff"/>
<path d="M459.2 149.5l2.2 2.2l-2.2 2.2l-2.2 -2.2z" fill="#ff00ff"/>
<path d="M461.4 142.2l2.2 2.2l-2.2 2.2l-2.2 -2.2z" fill="#ff00ff"/>
<path d="M463.5 149.5l2.2 2.2l-2.2 2.2l-2.2 -2.2z" fill="#ff00ff"/>
<path d="M465.7 139.0l2.2 2.2l-2.2 2.2l-2.2 -2.2z" fill="#ff00ff"/>
<path d="M467.9 155.3l2.2 2.2l-2.2 2.2l-2.2 -2.2z" fill="#ff00ff"/>
<path d="M469.8 159.4l2.2 2.2l-2.2 2.2l-2.2 -2.2z" fill="#ff00ff"/>
<path d="M472.6 149.0l2.2 2.2l-2.2 2.2l-2.2 -2.2z" fill="#ff00ff"/>
<path d="M474.5 149.1l2.2 2.2l-2.2 2.2l-2.2 -2.2z" fill="#ff00ff"/>
<path d="M476.6 153.2l2.2 2.2l-2.2 2.2l-2.2 -2.2z" fill="#ff00ff"/>
<path d="M478.8 146.1l2.2 2.2l-2.2 2.2l-2.2 -2.2z" fill="#ff00ff"/>
<path d="M480.7 149.0l2.2 2.2l-2.2 2.2l-2.2 -2.2z" fill="#ff00ff"/>
<path d="M482.8 135.9l2.2 2.2l-2.2 2.2l-2.2 -2.2z" fill="#ff00ff"/>
<path d="M485.3 143.3l2.2 2.2l-2.2 2.2l-2.2 -2.2z" fill="#ff00ff"/>
<path d="M487.2 145.2l2.2 2.2l-2.2 2.2l-2.2 -2.2z" fill="#ff00ff"/>
<path d="M489.3 147.4l2.2 2.2l-2.2 2.2l-2.2 -2.2z" fill="#ff00ff"/>
<path d="M491.6 143.5l2.2 2.2l-2.2 2.2l-2.2 -2.2z" fill="#ff00ff"/>
<path d="M493.4 141.3l2.2 2.2l-2.2 2.2l-2.2 -2.2z" fill="#ff00ff"/>
<path d="M495.5 134.7l2.2 2.2l-2.2 2.2l-2.2 -2.2z" fill="#ff00ff"/>
<path d="M498.0 140.2l2.2 2.2l-2.2 2.2l-2.2 -2.2z" fill="#ff00ff"/>
<path d="M500.9 140.0l2.2 2.2l-2.2 2.2l-2.2 -2.2z" fill="#ff00ff"/>
<path d="M504.7 132.9l2.2 2.2l-2.2 2.2l-2.2 -2.2z" fill="#ff00ff"/>
<path d="M506.1 125.8l2.2 2.2l-2.2 2.2l-2.2 -2.2z" fill="#ff00ff"/>
<path d="M508.0 130.9l2.2 2.2l-2.2 2.2l-2.2 -2.2z" fill="#ff00ff"/>
<path d="M512.4 124.4l2.2 2.2l-2.2 2.2l-2.2 -2.2z" fill="#ff00ff"/>
<path d="M514.6 133.8l2.2 2.2l-2.2 2.2l-2.2 -2.2z" fill="#ff00ff"/>
<path d="M516.9 120.5l2.2 2.2l-2.2 2.2l-2.2 -2.2z" fill="#ff00ff"/>
<path d="M518.4 122.7l2.2 2.2l-2.2 2.2l-2.2 -2.2z" fill="#ff00ff"/>
<path d="M521.1 117.9l2.2 2.2l-2.2 2.2l-2.2 -2.2z" fill="#ff00ff"/>
<path d="M523.2 110.6l2.2 2.2l-2.2 2.2l-2.2 -2.2z" fill="#ff00ff"/>
<path d="M525.1 128.6l2.2 2.2l-2.2 2.2l-2.2 -2.2z" fill="#ff00ff"/>
<path d="M527.1 111.5l2.2 2.2l-2.2 2.2l-2.2 -2.2z" fill="#ff00ff"/>
<path d="M529.7 120.7l2.2 2.2l-2.2 2.2l-2.2 -2.2z" fill="#ff00ff"/>
<path d="M531.6 102.7l2.2 2.2l-2.2 2.2l-2.2 -2.2z" fill="#ff00ff"/>
<path d="M534.0 118.3l2.2 2.2l-2.2 2.2l-2.2 -2.2z" fill="#ff00ff"/>
<path d="M538.3 114.4l2.2 2.2l-2.2 2.2l-2.2 -2.2z" fill="#ff00ff"/>
<path d="M540.0 114.7l2.2 2.2l-2.2 2.2l-2.2 -2.2z" fill="#ff00ff"/>
<path d="M541.8 109.8l2.2 2.2l-2.2 2.2l-2.2 -2.2z" fill="#ff00ff"/>
<path d="M546.0 112.0l2.2 2.2l-2.2 2.2l-2.2 -2.2z" fill="#ff00ff"/>
<path d="M550.2 114.3l2.2 2.2l-2.2 2.2l-2.2 -2.2z" fill="#ff00ff"/>
<path d="M552.6 108.1l2.2 2.2l-2.2 2.2l-2.2 -2.2z" fill="#ff00ff"/>
<path d="M558.5 108.0l2.2 2.2l-2.2 2.2l-2.2 -2.2z" fill="#ff00ff"/>
<path d="M560.7 109.2l2.2 2.2l-2.2 2.2l-2.2 -2.2z" fill="#ff00ff"/>
<path d="M563.1 111.1l2.2 2.2l-2.2 2.2l-2.2 -2.2z" fill="#ff00ff"/>
<path d="M566.2 106.8l2.2 2.2l-2.2 2.2l-2.2 -2.2z" fill="#ff00ff"/>
<path d="M569.8 101.9l2.2 2.2l-2.2 2.2l-2.2 -2.2z" fill="#ff00ff"/>
<path d="M571.7 93.9l2.2 2.2l-2.2 2.2l-2.2 -2.2z" fill="#ff00ff"/>
<path d="M574.0 100.3l2.2 2.2l-2.2 2.2l-2.2 -2.2z" fill="#ff00ff"/>
<path d="M575.9 96.8l2.2 2.2l-2.2 2.2l-2.2 -2.2z" fill="#ff00ff"/>
<path d="M577.8 97.2l2.2 2.2l-2.2 2.2l-2.2 -2.2z" fill="#ff00ff"/>
<path d="M579.9 93.1l2.2 2.2l-2.2 2.2l-2.2 -2.2z" fill="#ff00ff"/>
<path d="M583.9 107.0l2.2 2.2l-2.2 2.2l-2.2 -2.2z" fill="#ff00ff"/>
<path d="M586.4 88.0l2.2 2.2l-2.2 2.2l-2.2 -2.2z" fill="#ff00ff"/>
<path d="M588.9 93.1l2.2 2.2l-2.2 2.2l-2.2 -2.2z" fill="#ff00ff"/>
<path d="M591.1 88.3l2.2 2.2l-2.2 2.2l-2.2 -2.2z" fill="#ff00ff"/>
<path d="M594.9 88.2l2.2 2.2l-2.2 2.2l-2.2 -2.2z" fill="#ff00ff"/>
<path d="M597.0 79.9l2.2 2.2l-2.2 2.2l-2.2 -2.2z" fill="#ff00ff"/>
<path d="M599.1 93.1l2.2 2.2l-2.2 2.2l-2.2 -2.2z" fill="#ff00ff"/>
<path d="M601.4 89.3l2.2 2.2l-2.2 2.2l-2.2 -2.2z" fill="#ff00ff"/>
<path d="M603.5 85.2l2.2 2.2l-2.2 2.2l-2.2 -2.2z" fill="#ff00ff"/>
<path d="M605.7 91.0l2.2 2.2l-2.2 2.2l-2.2 -2.2z" fill="#ff00ff"/>
<path d="M607.9 78.8l2.2 2.2l-2.2 2.2l-2.2 -2.2z" fill="#ff00ff"/>
<path d="M609.8 88.6l2.2 2.2l-2.2 2.2l-2.2 -2.2z" fill="#ff00ff"/>
<path d="M611.9 84.2l2.2 2.2l-2.2 2.2l-2.2 -2.2z" fill="#ff00ff"/>
<path d="M614.2 84.2l2.2 2.2l-2.2 2.2l-2.2 -2.2z" fill="#ff00ff"/>
<path d="M616.2 79.8l2.2 2.2l-2.2 2.2l-2.2 -2.2z" fill="#ff00ff"/>
<path d="M618.1 56.3l2.2 2.2l-2.2 2.2l-2.2 -2.2z" fill="#ff00ff"/>
<path d="M620.4 70.7l2.2 2.2l-2.2 2.2l-2.2 -2.2z" fill="#ff00ff"/>
<path d="M624.8 76.5l2.2 2.2l-2.2 2.2l-2.2 -2.2z" fill="#ff00ff"/>
<path d="M629.2 72.8l2.2 2.2l-2.2 2.2l-2.2 -2.2z" fill="#ff00ff"/>
<path d="M631.0 47.3l2.2 2.2l-2.2 2.2l-2.2 -2.2z" fill="#ff00ff"/>
<path d="M633.9 76.5l2.2 2.2l-2.2 2.2l-2.2 -2.2z" fill="#ff00ff"/>
<path d="M637.5 60.0l2.2 2.2l-2.2 2.2l-2.2 -2.2z" fill="#ff00ff"/>
<path d="M639.4 63.8l2.2 2.2l-2.2 2.2l-2.2 -2.2z" fill="#ff00ff"/>
<path d="M641.9 68.5l2.2 2.2l-2.2 2.2l-2.2 -2.2z" fill="#ff00ff"/>
<path d="M643.8 61.9l2.2 2.2l-2.2 2.2l-2.2 -2.2z" fill="#ff00ff"/>
<path d="M645.9 56.0l2.2 2.2l-2.2 2.2l-2.2 -2.2z" fill="#ff00ff"/>
<path d="M647.8 71.7l2.2 2.2l-2.2 2.2l-2.2 -2.2z" fill="#ff00ff"/>
<path d="M650.1 64.6l2.2 2.2l-2.2 2.2l-2.2 -2.2z" fill="#ff00ff"/>
<path d="M652.4 71.7l2.2 2.2l-2.2 2.2l-2.2 -2.2z" fill="#ff00ff"/>
<path d="M654.2 62.3l2.2 2.2l-2.2 2.2l-2.2 -2.2z" fill="#ff00ff"/>
<path d="M656.4 72.9l2.2 2.2l-2.2 2.2l-2.2 -2.2z" fill="#ff00ff"/>
<path d="M658.4 48.6l2.2 2.2l-2.2 2.2l-2.2 -2.2z" fill="#ff00ff"/>
<path d="M660.6 78.3l2.2 2.2l-2.2 2.2l-2.2 -2.2z" fill="#ff00ff"/>
<path d="M662.8 41.3l2.2 2.2l-2.2 2.2l-2.2 -2.2z" fill="#ff00ff"/>
<path d="M665.0 70.7l2.2 2.2l-2.2 2.2l-2.2 -2.2z" fill="#ff00ff"/>
<path d="M666.6 64.9l2.2 2.2l-2.2 2.2l-2.2 -2.2z" fill="#ff00ff"/>
<path d="M671.2 64.9l2.2 2.2l-2.2 2.2l-2.2 -2.2z" fill="#ff00ff"/>
<path d="M673.4 72.9l2.2 2.2l-2.2 2.2l-2.2 -2.2z" fill="#ff00ff"/>
<path d="M675.3 65.2l2.2 2.2l-2.2 2.2l-2.2 -2.2z" fill="#ff00ff"/>
<path d="M677.2 71.0l2.2 2.2l-2.2 2.2l-2.2 -2.2z" fill="#ff00ff"/>
<path d="M679.2 73.2l2.2 2.2l-2.2 2.2l-2.2 -2.2z" fill="#ff00ff"/>
<path d="M681.9 65.0l2.2 2.2l-2.2 2.2l-2.2 -2.2z" fill="#ff00ff"/>
<path d="M684.0 38.6l2.2 2.2l-2.2 2.2l-2.2 -2.2z" fill="#ff00ff"/>
</g>
<rect x="608" y="176.0" width="83.1" height="25.0" fill="#000"/>
<rect x="604" y="174.5" width="86.5" height="25.0" fill="#fff" stroke="#777" stroke-width="0.6"/>
<path d="M607 180.2l2.2 2.2l-2.2 2.2l-2.2 -2.2z" fill="#ff00ff"/>
<circle cx="607" cy="191.7" r="1.5" fill="#ffa500"/>
<path d="M618 180.2l2.2 2.2l-2.2 2.2l-2.2 -2.2z" fill="#ff00ff"/>
<circle cx="618" cy="191.7" r="1.5" fill="#ffa500"/>
<path d="M629 180.2l2.2 2.2l-2.2 2.2l-2.2 -2.2z" fill="#ff00ff"/>
<circle cx="629" cy="191.7" r="1.5" fill="#ffa500"/>
<g font-family="Liberation Sans, sans-serif"><text transform="translate(632.20,185.30) scale(1,1.06)" font-size="8">HST Visit 2</text></g>
<g font-family="Liberation Sans, sans-serif"><text transform="translate(632.20,194.60) scale(1,1.06)" font-size="8">Normalized IUE</text></g>
<circle cx="408.6" cy="72.6" r="0.8" fill="#ff00ff" opacity="0.8"/>
<text x="171" y="271" text-anchor="middle" font-family="Liberation Serif, serif" font-size="13">(a)</text>
<text x="547" y="271" text-anchor="middle" font-family="Liberation Serif, serif" font-size="13">(b)</text>
</svg>
</body></html>
